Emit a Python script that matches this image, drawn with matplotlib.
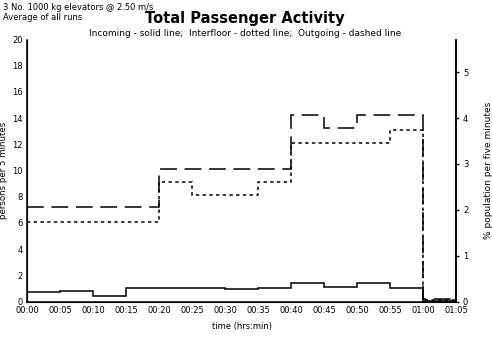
import numpy as np
import matplotlib
matplotlib.use("Agg")
import matplotlib.pyplot as plt

# 5-minute bins from 00:00 to 01:05
edges = np.arange(0, 70, 5)
tick_labels = ["00:00", "00:05", "00:10", "00:15", "00:20", "00:25", "00:30",
               "00:35", "00:40", "00:45", "00:50", "00:55", "01:00", "01:05"]

incoming = [0.7, 0.77, 0.45, 1.0, 1.05, 1.0, 0.98, 1.05, 1.43, 1.13, 1.38, 1.05, 0.07]
interfloor = [6.1, 6.1, 6.1, 6.1, 9.1, 8.1, 8.1, 9.1, 12.1, 12.1, 12.1, 13.1, 0.12]
outgoing = [7.2, 7.2, 7.2, 7.2, 10.15, 10.15, 10.15, 10.15, 14.25, 13.25, 14.25, 14.25, 0.18]

population = 350  # persons (3.5 persons = 1 %)

plt.rcParams["font.family"] = "DejaVu Sans"
fig = plt.figure(figsize=(4.92, 3.6), dpi=100)
ax = fig.add_axes([27 / 492, 1 - 301.5 / 360, (456 - 27) / 492, (301.5 - 39.5) / 360])

ax.stairs(incoming, edges, baseline=None, color="black", lw=1.1)
ax.stairs(interfloor, edges, baseline=None, color="black", lw=1.1, linestyle=(0, (2.2, 2.2)))
ax.stairs(outgoing, edges, baseline=None, color="black", lw=1.1, linestyle=(0, (11, 5)))

ax.set_xlim(0, 65)
ax.set_ylim(0, 20)
ax.set_xticks(edges)
ax.set_xticklabels(tick_labels)
ax.set_yticks(range(0, 21, 2))
ax.tick_params(axis="both", length=0, labelsize=6, pad=3)
ax.spines["top"].set_visible(False)
for s in ["left", "right", "bottom"]:
    ax.spines[s].set_linewidth(1.1)
ax.set_ylabel("persons per 5 minutes", fontsize=6.2)
ax.yaxis.set_label_coords(-0.044, 0.5)
ax.set_xlabel("time (hrs:min)", fontsize=6, labelpad=5)

ax2 = ax.twinx()
ax2.set_ylim(0, 20 / population * 100)
ax2.set_yticks(range(0, 6))
ax2.tick_params(axis="y", length=2, width=1, labelsize=6, pad=3)
ax2.spines["top"].set_visible(False)
ax2.spines["right"].set_linewidth(1.1)
ax2.set_ylabel("% population per five minutes", fontsize=6.5)
ax2.yaxis.set_label_coords(1.065, 0.5)

fig.text(3 / 492, 1 - 8 / 360, "3 No. 1000 kg elevators @ 2.50 m/s", fontsize=6, va="center")
fig.text(3 / 492, 1 - 17 / 360, "Average of all runs", fontsize=6, va="center")
fig.text(245 / 492, 1 - 18 / 360, "Total Passenger Activity", fontsize=10.5,
         fontweight="bold", ha="center", va="center")
fig.text(245 / 492, 1 - 33 / 360,
         "Incoming - solid line;  Interfloor - dotted line;  Outgoing - dashed line",
         fontsize=6.5, ha="center", va="center")

fig.savefig("out.png", dpi=100)
